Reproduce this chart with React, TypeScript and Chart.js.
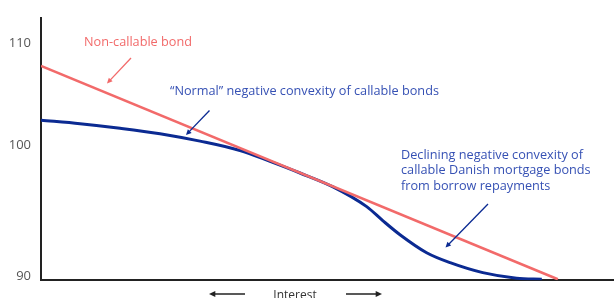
import React, { useEffect, useRef } from 'react';
import { Chart, registerables } from 'chart.js';

Chart.register(...registerables);

// ---- Data ----
const interestNonCallable = [0, 90.2];
const priceNonCallable = [108.08, 90.08];

const interestCallable = [0, 6.81, 13.79, 20.77, 27.75, 34.73, 39.97, 45.2, 50.96, 56.84, 59.69, 62.65, 67.3, 71.4, 77.1, 83.0, 87.4];
const priceCallable = [103.51, 103.21, 102.83, 102.37, 101.74, 100.95, 100.03, 99.05, 97.88, 96.21, 95.01, 93.84, 92.32, 91.48, 90.64, 90.17, 90.08];

const yTickLabels = ['90', '100', '110'];
const yTickValues = [90.36, 101.37, 110];

const xAxisTitle = 'Interest';
const labelNonCallable = ['Non-callable bond'];
const labelNormal = ['\u201CNormal\u201D negative convexity of callable bonds'];
const labelDeclining = [
  'Declining negative convexity of',
  'callable Danish mortgage bonds',
  'from borrow repayments',
];

const FONT = '"Open Sans", "Noto Sans", sans-serif';
const RED = '#f26a6a';
const NAVY = '#0b2a92';
const BLUE_TEXT = '#3651b4';

function arrow(ctx: CanvasRenderingContext2D, x1: number, y1: number, x2: number, y2: number, color: string, w = 1.3, head = 6) {
  const a = Math.atan2(y2 - y1, x2 - x1);
  ctx.save();
  ctx.strokeStyle = color;
  ctx.fillStyle = color;
  ctx.lineWidth = w;
  ctx.beginPath();
  ctx.moveTo(x1, y1);
  ctx.lineTo(x2 - Math.cos(a) * head * 0.6, y2 - Math.sin(a) * head * 0.6);
  ctx.stroke();
  ctx.beginPath();
  ctx.moveTo(x2, y2);
  ctx.lineTo(x2 - head * Math.cos(a - 0.45), y2 - head * Math.sin(a - 0.45));
  ctx.lineTo(x2 - head * Math.cos(a + 0.45), y2 - head * Math.sin(a + 0.45));
  ctx.closePath();
  ctx.fill();
  ctx.restore();
}

const annotationPlugin = {
  id: 'annotations',
  afterDraw(chart: any) {
    const ctx: CanvasRenderingContext2D = chart.ctx;
    ctx.save();
    ctx.textBaseline = 'middle';
    ctx.textAlign = 'left';
    ctx.font = `12.7px ${FONT}`;

    ctx.fillStyle = RED;
    labelNonCallable.forEach((t, i) => ctx.fillText(t, 84, 42 + i * 15.7));
    arrow(ctx, 131, 58, 107, 83.5, RED, 1.3, 6);

    ctx.fillStyle = BLUE_TEXT;
    labelNormal.forEach((t, i) => ctx.fillText(t, 170, 91.5 + i * 15.7));
    arrow(ctx, 209.5, 110.5, 186, 135, NAVY, 1.3, 6);

    ctx.fillStyle = BLUE_TEXT;
    labelDeclining.forEach((t, i) => ctx.fillText(t, 401, 155 + i * 15.6));
    arrow(ctx, 488, 204, 445.5, 247.5, NAVY, 1.3, 6);

    // x-axis title with arrows
    ctx.fillStyle = '#333';
    ctx.textAlign = 'center';
    ctx.textBaseline = 'top';
    ctx.font = `12px ${FONT}`;
    ctx.fillText(xAxisTitle, 295, 289.5);
    arrow(ctx, 245, 294, 209, 294, '#222', 1.5, 7);
    arrow(ctx, 346, 294, 382, 294, '#222', 1.5, 7);
    ctx.restore();
  },
};

export default function App() {
  const ref = useRef<HTMLCanvasElement | null>(null);

  useEffect(() => {
    if (!ref.current) return;
    const chart = new Chart(ref.current, {
      type: 'line',
      data: {
        datasets: [
          {
            label: 'Non-callable bond',
            data: interestNonCallable.map((x, i) => ({ x, y: priceNonCallable[i] })),
            borderColor: RED,
            borderWidth: 2.5,
            pointRadius: 0,
            tension: 0,
          },
          {
            label: 'Callable bond',
            data: interestCallable.map((x, i) => ({ x, y: priceCallable[i] })),
            borderColor: NAVY,
            borderWidth: 3,
            pointRadius: 0,
            cubicInterpolationMode: 'monotone',
          },
        ],
      },
      options: {
        responsive: false,
        devicePixelRatio: 1,
        animation: false,
        layout: { padding: { top: 16, right: 0, left: 0, bottom: 0 } },
        plugins: { legend: { display: false }, tooltip: { enabled: false } },
        scales: {
          x: {
            type: 'linear',
            min: 0,
            max: 100,
            ticks: { display: false },
            grid: { display: false, drawTicks: false },
            border: { display: true, color: '#222', width: 2 },
            afterFit: (s: any) => {
              s.height = 17;
            },
          },
          y: {
            type: 'linear',
            min: 90,
            max: 112.15,
            afterBuildTicks: (s: any) => {
              s.ticks = yTickValues.map((v) => ({ value: v }));
            },
            ticks: {
              callback: (_v: any, i: number) => yTickLabels[i],
              color: '#555',
              font: { family: FONT, size: 13 },
              padding: 10,
              autoSkip: false,
            },
            grid: { display: false, drawTicks: false },
            border: { display: true, color: '#222', width: 2 },
            afterFit: (s: any) => {
              s.width = 41;
            },
          },
        },
      } as any,
      plugins: [annotationPlugin],
    });
    return () => chart.destroy();
  }, []);

  return (
    <div style={{ position: 'fixed', left: 0, top: 0, width: 614, height: 298, background: '#fff' }}>
      <canvas ref={ref} width={614} height={298} style={{ width: 614, height: 298, display: 'block' }} />
    </div>
  );
}
